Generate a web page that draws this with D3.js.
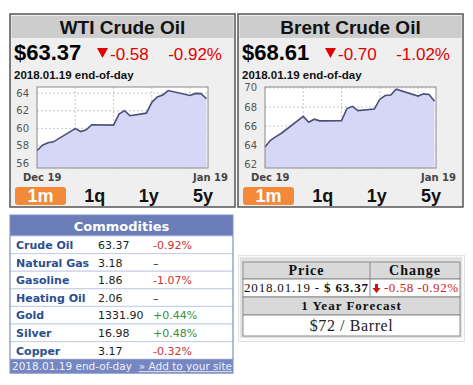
<!DOCTYPE html>
<html lang="en">
<head>
<meta charset="UTF-8">
<title>Crude Oil Prices</title>
<style>
  body { margin: 0; background: #fff; }
  svg { display: block; }
</style>
</head>
<body>
<div id="chart"></div>
<script src="https://d3js.org/d3.v7.min.js"></script>
<script>
// trading days, Dec 19 2017 - Jan 19 2018
const days = ["2017-12-19","2017-12-20","2017-12-21","2017-12-22","2017-12-26","2017-12-27",
  "2017-12-28","2017-12-29","2018-01-02","2018-01-03","2018-01-04","2018-01-05","2018-01-08",
  "2018-01-09","2018-01-10","2018-01-11","2018-01-12","2018-01-16","2018-01-17","2018-01-18","2018-01-19"];
const wtiValues = [57.46, 58.09, 58.36, 58.47, 59.97, 59.64, 59.84, 60.42, 60.37, 61.63, 62.01,
  61.44, 61.73, 62.96, 63.57, 63.80, 64.30, 63.73, 63.97, 63.95, 63.37];
const brentValues = [63.80, 64.50, 64.90, 65.25, 67.02, 66.40, 66.72, 66.55, 66.57, 67.84, 68.07,
  67.62, 67.78, 68.82, 69.20, 69.26, 69.87, 69.15, 69.38, 69.31, 68.61];
const wtiTicks = [56, 58, 60, 62, 64];
const brentTicks = [62, 64, 66, 68, 70];
const weekTicks = ["2017-12-26", "2018-01-02", "2018-01-09", "2018-01-16"];
const ranges = ["1m", "1q", "1y", "5y"];

const commodities = ["Crude Oil", "Natural Gas", "Gasoline", "Heating Oil", "Gold", "Silver", "Copper"];
const commodityPrices = ["63.37", "3.18", "1.86", "2.06", "1331.90", "16.98", "3.17"];
const commodityChanges = ["-0.92%", "–", "-1.07%", "–", "+0.44%", "+0.48%", "-0.32%"];

const parse = d3.timeParse("%Y-%m-%d");

const svg = d3.select("#chart").append("svg")
  .attr("width", 473).attr("height", 385);

function drawPanel(x0, opt) {
  const g = svg.append("g");
  const w = 225;
  // panel box
  g.append("rect").attr("x", x0).attr("y", 14).attr("width", w).attr("height", 193)
    .attr("fill", "#efefef").attr("stroke", "#555").attr("stroke-width", 1.5);
  g.append("rect").attr("x", x0 + 1.5).attr("y", 16).attr("width", w - 3).attr("height", 22)
    .attr("fill", "#cdcdcd");
  g.append("text").attr("x", x0 + w / 2).attr("y", 34).attr("text-anchor", "middle")
    .style("font", "bold 19px 'Liberation Sans', Arial, sans-serif").attr("fill", "#111")
    .text(opt.title);

  // price row
  g.append("text").attr("x", x0 + 4).attr("y", 60)
    .style("font", "bold 22px 'Liberation Sans', Arial, sans-serif").attr("fill", "#000")
    .text(opt.price);
  g.append("path")
    .attr("d", `M${x0 + 87},48 L${x0 + 98},48 L${x0 + 92.5},58 Z`).attr("fill", "#e00000");
  g.append("text").attr("x", x0 + 100).attr("y", 60)
    .style("font", "17px 'Liberation Sans', Arial, sans-serif").attr("fill", "#e00000")
    .text(opt.change);
  g.append("text").attr("x", x0 + 212).attr("y", 60).attr("text-anchor", "end")
    .style("font", "17px 'Liberation Sans', Arial, sans-serif").attr("fill", "#e00000")
    .text(opt.pct);
  g.append("text").attr("x", x0 + 4).attr("y", 79)
    .style("font", "bold 11.5px 'Liberation Sans', Arial, sans-serif").attr("fill", "#111")
    .text("2018.01.19 end-of-day");

  // plot
  const left = x0 + 27, right = x0 + 198, top = 87, bottom = 168;
  const x = d3.scaleTime()
    .domain([parse(days[0]), parse(days[days.length - 1])])
    .range([left, right - 1.5]);
  const y = d3.scaleLinear().domain(opt.domain).range([bottom, top]);

  g.append("rect").attr("x", left).attr("y", top).attr("width", right - left).attr("height", bottom - top)
    .attr("fill", "#fff");

  g.append("g").selectAll("line").data(opt.ticks).join("line")
    .attr("x1", left).attr("x2", right).attr("y1", d => y(d)).attr("y2", d => y(d))
    .attr("stroke", "#c8c8c8").attr("stroke-dasharray", "2,2");
  g.append("g").selectAll("line").data(weekTicks).join("line")
    .attr("x1", d => x(parse(d))).attr("x2", d => x(parse(d)))
    .attr("y1", top).attr("y2", bottom + 3)
    .attr("stroke", "#c8c8c8").attr("stroke-dasharray", "2,2");

  const pts = days.map((d, i) => ({ date: parse(d), v: opt.values[i] }));
  g.append("path").datum(pts)
    .attr("d", d3.area().x(d => x(d.date)).y0(bottom).y1(d => y(d.v)))
    .attr("fill", "#d6d7f7");
  g.append("path").datum(pts)
    .attr("d", d3.line().x(d => x(d.date)).y(d => y(d.v)))
    .attr("fill", "none").attr("stroke", "#4a4f78").attr("stroke-width", 1.6);

  g.append("rect").attr("x", left).attr("y", top).attr("width", right - left).attr("height", bottom - top)
    .attr("fill", "none").attr("stroke", "#8a8a8a");

  g.append("g").selectAll("text").data(opt.ticks).join("text")
    .attr("x", left - 8).attr("y", d => y(d) + 3.5).attr("text-anchor", "end")
    .style("font", "10px 'DejaVu Sans', sans-serif").attr("fill", "#555")
    .text(d => d);

  g.append("text").attr("x", left - 14).attr("y", 181)
    .style("font", "bold 10px 'DejaVu Sans', sans-serif").attr("fill", "#444").text("Dec 19");
  g.append("text").attr("x", x0 + 218).attr("y", 181).attr("text-anchor", "end")
    .style("font", "bold 10px 'DejaVu Sans', sans-serif").attr("fill", "#444").text("Jan 19");

  // range buttons
  g.append("rect").attr("x", x0 + 5).attr("y", 187).attr("width", 51).attr("height", 18).attr("rx", 3)
    .attr("fill", "#f4893a");
  const bx = d3.scalePoint().domain(ranges).range([x0 + 30.5, x0 + 193]);
  g.append("g").selectAll("text").data(ranges).join("text")
    .attr("x", d => bx(d)).attr("y", 202).attr("text-anchor", "middle")
    .style("font", "bold 18px 'Liberation Sans', Arial, sans-serif")
    .attr("fill", (d, i) => i === 0 ? "#fff" : "#111")
    .text(d => d);
}

drawPanel(10, { title: "WTI Crude Oil", price: "$63.37", change: "-0.58", pct: "-0.92%",
  values: wtiValues, domain: [55.5, 64.7], ticks: wtiTicks });
drawPanel(238, { title: "Brent Crude Oil", price: "$68.61", change: "-0.70", pct: "-1.02%",
  values: brentValues, domain: [61.6, 70.1], ticks: brentTicks });

// commodities table
(function () {
  const g = svg.append("g");
  const x0 = 10, x1 = 233, top = 215, head = 236, rowH = 17.6;
  const footY = head + rowH * commodities.length;
  g.append("rect").attr("x", x0).attr("y", top).attr("width", x1 - x0).attr("height", head - top)
    .attr("fill", "#6a7db8");
  g.append("text").attr("x", (x0 + x1) / 2).attr("y", 231).attr("text-anchor", "middle")
    .style("font", "bold 13px 'DejaVu Sans', sans-serif").attr("fill", "#fff").text("Commodities");
  const rows = g.append("g").selectAll("g").data(commodities).join("g")
    .attr("transform", (d, i) => `translate(0,${head + i * rowH})`);
  rows.append("rect").attr("x", x0).attr("width", x1 - x0).attr("height", rowH)
    .attr("fill", "#fff").attr("stroke", "#c5cde4");
  rows.append("text").attr("x", 16).attr("y", 13)
    .style("font", "bold 11px 'DejaVu Sans', sans-serif").attr("fill", "#2b4f90").text(d => d);
  rows.append("text").attr("x", 98).attr("y", 13)
    .style("font", "11px 'DejaVu Sans', sans-serif").attr("fill", "#222")
    .text((d, i) => commodityPrices[i]);
  rows.append("text").attr("x", 153).attr("y", 13)
    .style("font", "11px 'DejaVu Sans', sans-serif")
    .attr("fill", (d, i) => commodityChanges[i][0] === "+" ? "#3a8f3a" : commodityChanges[i][0] === "-" ? "#cc3333" : "#222")
    .text((d, i) => commodityChanges[i]);
  g.append("rect").attr("x", x0).attr("y", footY).attr("width", x1 - x0).attr("height", 14)
    .attr("fill", "#7487c0");
  g.append("text").attr("x", 12).attr("y", footY + 11)
    .style("font", "10.5px 'DejaVu Sans', sans-serif").attr("fill", "#eef")
    .text("2018.01.19 end-of-day");
  g.append("text").attr("x", 232).attr("y", footY + 11).attr("text-anchor", "end")
    .style("font", "10.5px 'DejaVu Sans', sans-serif").attr("fill", "#eef")
    .attr("text-decoration", "underline").text("» Add to your site");
  g.append("rect").attr("x", x0).attr("y", top).attr("width", x1 - x0).attr("height", footY + 14 - top)
    .attr("fill", "none").attr("stroke", "#8092c6");
})();

// price / forecast table
(function () {
  const g = svg.append("g");
  const serif = "'Liberation Serif', 'DejaVu Serif', serif";
  g.append("rect").attr("x", 238.5).attr("y", 255.5).attr("width", 226).attr("height", 86)
    .attr("fill", "#fafafa").attr("stroke", "#e2e2e2");
  g.append("rect").attr("x", 240).attr("y", 257).attr("width", 222).attr("height", 81)
    .attr("fill", "#e2e2e2");
  const L = 243, R = 460, mid = 370;
  const rowsY = [262, 279, 297, 315, 336];
  const fills = ["#d9d9d9", "#fff", "#d9d9d9", "#fff"];
  fills.forEach((f, i) => {
    g.append("rect").attr("x", L).attr("y", rowsY[i]).attr("width", R - L).attr("height", rowsY[i + 1] - rowsY[i])
      .attr("fill", f).attr("stroke", "#8a8a8a");
  });
  g.append("line").attr("x1", mid).attr("x2", mid).attr("y1", rowsY[0]).attr("y2", rowsY[2]).attr("stroke", "#8a8a8a");

  g.append("text").attr("x", (L + mid) / 2).attr("y", 275).attr("text-anchor", "middle")
    .style("font", `bold 14px ${serif}`).attr("letter-spacing", 1).attr("fill", "#111").text("Price");
  g.append("text").attr("x", (mid + R) / 2).attr("y", 275).attr("text-anchor", "middle")
    .style("font", `bold 14px ${serif}`).attr("letter-spacing", 1).attr("fill", "#111").text("Change");

  const t = g.append("text").attr("x", 244).attr("y", 292)
    .style("font", `13px ${serif}`).attr("fill", "#111")
    .attr("textLength", 124).attr("lengthAdjust", "spacing");
  t.append("tspan").text("2018.01.19 - ");
  t.append("tspan").attr("font-weight", "bold").text("$ 63.37");

  g.append("path").attr("d", "M375,284 L378,284 L378,288 L380.5,288 L376.5,293 L372.5,288 L375,288 Z")
    .attr("fill", "#d01010");
  g.append("text").attr("x", 384).attr("y", 292)
    .style("font", `13px ${serif}`).attr("fill", "#cc2222")
    .attr("textLength", 74).attr("lengthAdjust", "spacing").text("-0.58 -0.92%");

  g.append("text").attr("x", (L + R) / 2).attr("y", 310).attr("text-anchor", "middle")
    .style("font", `bold 13px ${serif}`).attr("letter-spacing", 1).attr("fill", "#111").text("1 Year Forecast");
  g.append("text").attr("x", (L + R) / 2).attr("y", 331).attr("text-anchor", "middle")
    .style("font", `16px ${serif}`).attr("letter-spacing", 0.6).attr("fill", "#222").text("$72 / Barrel");
})();
</script>
</body>
</html>
